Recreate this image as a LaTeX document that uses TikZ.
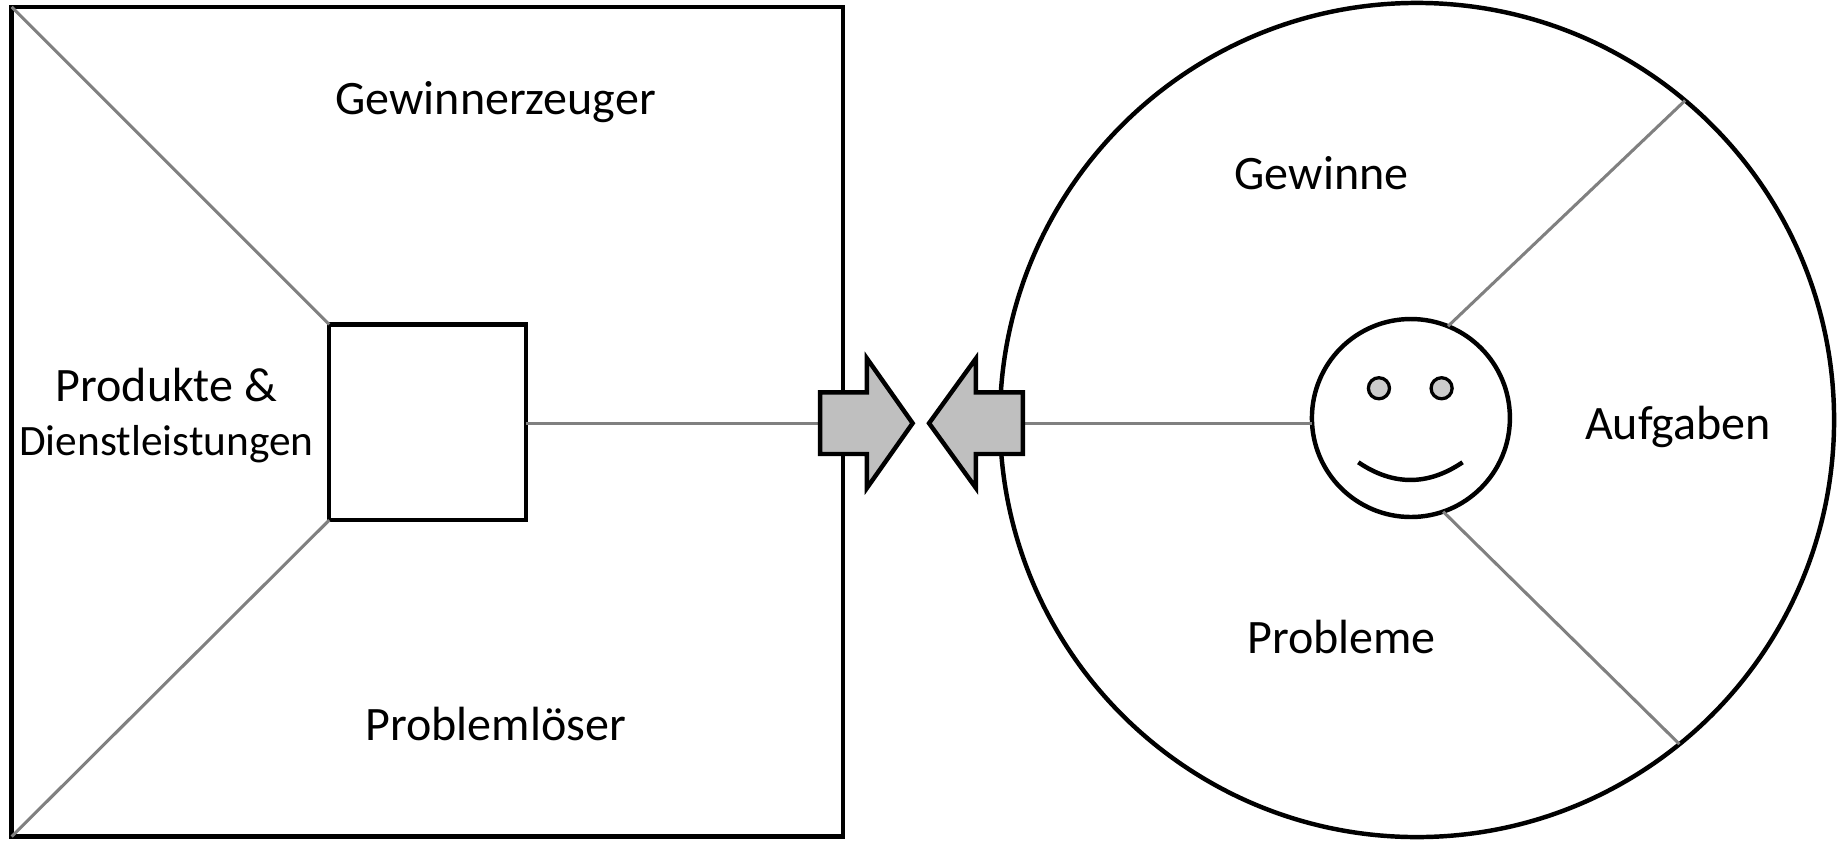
\documentclass[tikz,border=0pt]{standalone}
\usepackage{fontspec}
\setmainfont{Carlito}
\begin{document}
\begin{tikzpicture}[x=1pt,y=-1pt,
  blackline/.style={draw=black,line width=3.8pt},
  grayline/.style={draw=black!50,line width=2.6pt},
  boxnode/.style={blackline,rectangle,outer sep=0pt,inner sep=0pt},
  ringnode/.style={blackline,circle,outer sep=0pt,inner sep=0pt},
  bigarrow/.style={blackline,fill=black!25,line join=miter},
  eyenode/.style={draw=black,line width=2.8pt,fill=black!20,circle,inner sep=0pt,outer sep=0pt,minimum size=18pt},
  lbl/.style={anchor=base,inner sep=0pt,font=\fontsize{41}{49}\selectfont},
  lblsmall/.style={anchor=base,inner sep=0pt,font=\fontsize{37}{44}\selectfont}]
\useasboundingbox (0,0) rectangle (1568,717);
% value proposition square
\node[boxnode,minimum width=709.5pt,minimum height=708pt] (outer) at (364.75,360) {};
\node[boxnode,minimum width=168pt,minimum height=167pt] (inner) at (365,360.5) {};
\draw[grayline] (outer.north west) -- (inner.north west);
\draw[grayline] (outer.south west) -- (inner.south west);
% customer circle
\node[ringnode,minimum size=712pt] (big) at (1209.5,358.5) {};
\node[ringnode,minimum size=169pt] (smiley) at (1204.3,356.8) {};
\node[eyenode] (eyeL) at (1177,331.4) {};
\node[eyenode] (eyeR) at (1230.5,331.4) {};
\coordinate (mouthL) at (1159.4,394.6);
\coordinate (mouthR) at (1248.4,394.6);
\draw[blackline] (mouthL) .. controls (1189,414.7) and (1218.8,414.7) .. (mouthR);
\draw[grayline] (smiley.68) -- (big.50.4);
\draw[grayline] (smiley.-71.5) -- (big.-51.6);
% arrows
\coordinate (rback) at (700,361.25);
\coordinate (lback) at (873,361.25);
\draw[grayline] (inner.east |- rback) -- (rback);
\draw[grayline] (lback) -- (lback -| smiley.west);
\draw[bigarrow] (700,335) -- (740,335) -- (740,306) -- (779,361.25) -- (740,416.5) -- (740,387.5) -- (700,387.5) -- cycle;
\draw[bigarrow] (873,335) -- (833,335) -- (833,306) -- (793,361.25) -- (833,416.5) -- (833,387.5) -- (873,387.5) -- cycle;
% labels
\node[lbl] (gz) at (423,98) {Gewinnerzeuger};
\node[lbl] (pd) at (142,343) {Produkte \&};
\node[lblsmall] (dl) at (142,389) {Dienstleistungen};
\node[lbl] (pl) at (423,632) {Problemlöser};
\node[lbl] (gw) at (1128,162) {Gewinne};
\node[lbl] (af) at (1432,375) {Aufgaben};
\node[lbl] (pb) at (1145,558) {Probleme};
\end{tikzpicture}
\end{document}
